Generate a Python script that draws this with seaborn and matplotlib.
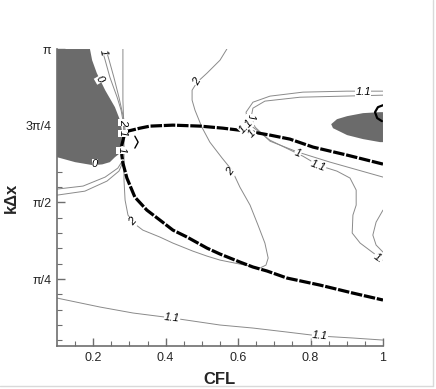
import numpy as np
import matplotlib
matplotlib.use("Agg")
import matplotlib.pyplot as plt
from matplotlib.lines import Line2D
import seaborn as sns

PI = np.pi

# ---- shaded regions (contour level < 0) ----
neg_left_x = [0.100, 0.191, 0.197, 0.210, 0.233, 0.260, 0.274, 0.279, 0.279, 0.277, 0.274,
              0.260, 0.246, 0.225, 0.199, 0.150, 0.100]
neg_left_y = [PI, PI, 3.027, 2.894, 2.720, 2.546, 2.413, 2.311, 2.208, 2.127, 2.075,
              2.034, 1.983, 1.960, 1.952, 1.983, 2.034]
neg_right_x = [1.000, 0.992, 0.945, 0.901, 0.873, 0.857, 0.862, 0.901, 0.945, 0.992, 1.000]
neg_right_y = [2.495, 2.495, 2.485, 2.454, 2.423, 2.372, 2.331, 2.260, 2.219, 2.188, 2.188]

# ---- thick dashed contour (|G| = 1 boundary) ----
bound_x = [1.000, 0.901, 0.807, 0.743, 0.688, 0.625, 0.558, 0.495, 0.420, 0.357, 0.329, 0.296,
           0.285, 0.279, 0.279, 0.282, 0.293, 0.315, 0.348, 0.384, 0.420, 0.459, 0.514, 0.550,
           0.605, 0.641, 0.680, 0.735, 0.826, 0.917, 1.000]
bound_y = [1.963, 2.055, 2.137, 2.219, 2.260, 2.301, 2.331, 2.352, 2.362, 2.352, 2.331, 2.301,
           2.249, 2.157, 2.055, 1.973, 1.820, 1.625, 1.492, 1.390, 1.287, 1.216, 1.103, 1.042,
           0.960, 0.909, 0.868, 0.796, 0.724, 0.642, 0.571]

# ---- contour level 2 ----
c2_x = [0.569, 0.550, 0.514, 0.487, 0.473, 0.473, 0.481, 0.500, 0.522, 0.556, 0.583, 0.605,
        0.633, 0.655, 0.674, 0.683, 0.677, 0.660, 0.605, 0.550, 0.514, 0.475, 0.420, 0.384,
        0.337, 0.315, 0.296, 0.288, 0.285, 0.285, 0.285, 0.282, 0.282, 0.282]
c2_y = [PI, 3.027, 2.894, 2.802, 2.720, 2.618, 2.515, 2.341, 2.188, 2.024, 1.901, 1.727,
        1.543, 1.338, 1.154, 1.001, 0.929, 0.898, 0.939, 0.980, 1.021, 1.072, 1.154, 1.216,
        1.287, 1.349, 1.441, 1.594, 1.799, 2.004, 2.311, 2.618, 2.925, PI]

# ---- contours 1 / 1.1 near the left cusp ----
top_a_x = [0.224, 0.233, 0.246, 0.266, 0.277, 0.282, 0.285]
top_a_y = [PI, 3.027, 2.853, 2.648, 2.515, 2.413, 2.311]
top_b_x = [0.235, 0.244, 0.257, 0.271, 0.279, 0.285, 0.288]
top_b_y = [PI, 3.027, 2.853, 2.648, 2.515, 2.413, 2.311]
low_c_x = [0.100, 0.172, 0.233, 0.268, 0.282]
low_c_y = [1.707, 1.738, 1.830, 1.922, 2.004]
low_d_x = [0.100, 0.177, 0.238, 0.271, 0.282]
low_d_y = [1.645, 1.686, 1.789, 1.891, 1.983]

# ---- contour 1.1 (bottom) ----
bot11_x = [0.100, 0.219, 0.310, 0.418, 0.550, 0.641, 0.735, 0.826, 0.917, 1.000]
bot11_y = [0.591, 0.499, 0.438, 0.387, 0.315, 0.284, 0.243, 0.202, 0.182, 0.161]

# ---- contours 1.1 and 1 (right, around the shaded ellipse) ----
r11_x = [1.000, 0.901, 0.779, 0.688, 0.641, 0.622, 0.625, 0.641, 0.688, 0.779, 0.821, 0.873,
         0.909, 0.926, 0.926, 0.917, 0.915, 0.937, 0.970, 1.000]
r11_y = [2.710, 2.710, 2.700, 2.659, 2.597, 2.495, 2.413, 2.341, 2.208, 2.044, 1.952, 1.891,
         1.820, 1.697, 1.543, 1.441, 1.257, 1.154, 1.062, 0.980]
r1_x = [1.000, 0.771, 0.674, 0.641, 0.636, 0.647, 0.688, 0.765, 0.854, 1.000]
r1_y = [2.669, 2.648, 2.608, 2.536, 2.444, 2.341, 2.198, 2.086, 1.983, 1.830]
bump_x = [1.000, 0.981, 0.972, 0.981, 1.000]
bump_y = [1.492, 1.369, 1.236, 1.134, 1.062]

# ---- small solid black arcs (level 0 pieces) ----
arc_r_x = [1.000, 0.986, 0.978, 0.984, 0.997]
arc_r_y = [2.566, 2.546, 2.495, 2.434, 2.403]
arc_l_x = [0.315, 0.324, 0.315]
arc_l_y = [2.249, 2.188, 2.127]

# ---- contour labels: text, x, y, rotation ----
lab_text = ["1", "0", "0", "2", "1", "1", "2", "2", "2", "1", "1.1", "1",
            "1.1", "1", "1.1", "1.1", "1.1", "1."]
lab_x = [0.227, 0.219, 0.205, 0.282, 0.282, 0.279, 0.487, 0.580, 0.310, 0.636, 0.622, 0.638,
         0.945, 0.765, 0.821, 0.418, 0.826, 0.986]
lab_y = [3.110, 2.833, 1.963, 2.393, 2.280, 2.106, 2.802, 1.881, 1.369, 2.444, 2.352, 2.270,
         2.700, 2.075, 1.942, 0.387, 0.202, 1.001]
lab_rot = [-80, -60, 0, -90, -90, -90, 60, 55, 50, -90, 45, 45,
           0, -20, -20, -6, -5, -35]

yticks = [PI / 4, PI / 2, 3 * PI / 4, PI]
ytick_labels = ["π/4", "π/2", "3π/4", "π"]
xticks = [0.2, 0.4, 0.6, 0.8, 1.0]
xtick_labels = ["0.2", "0.4", "0.6", "0.8", "1"]

sns.set_style("white")
plt.rcParams['font.family'] = ['Liberation Sans', 'DejaVu Sans']

fig = plt.figure(figsize=(4.36, 3.89), dpi=100)
ax = fig.add_axes([0.1307, 0.1105, 0.7477, 0.7635])

AX_GRAY = "#6e6e6e"
LINE_GRAY = "#8a8a8a"

ax.fill(neg_left_x, neg_left_y, color="#6b6b6b", lw=0, zorder=1)
ax.fill(neg_right_x, neg_right_y, color="#6b6b6b", lw=0, zorder=1)


def thin(x, y, color=LINE_GRAY, lw=0.7):
    sns.lineplot(x=x, y=y, sort=False, estimator=None, ax=ax, color=color, lw=lw, zorder=2)


for xs, ys in [(c2_x, c2_y), (top_a_x, top_a_y), (top_b_x, top_b_y), (low_c_x, low_c_y),
               (low_d_x, low_d_y), (bot11_x, bot11_y), (r11_x, r11_y), (r1_x, r1_y),
               (bump_x, bump_y)]:
    thin(xs, ys)

sns.lineplot(x=bound_x, y=bound_y, sort=False, estimator=None, ax=ax, color="black", lw=2.3,
             zorder=4)
ax.lines[-1].set_dashes([3.6, 0.55])
sns.lineplot(x=arc_r_x, y=arc_r_y, sort=False, estimator=None, ax=ax, color="black", lw=1.6,
             zorder=4)
sns.lineplot(x=arc_l_x, y=arc_l_y, sort=False, estimator=None, ax=ax, color="black", lw=1.0,
             zorder=4)

for t, x, y, r in zip(lab_text, lab_x, lab_y, lab_rot):
    ax.text(x, y, t, rotation=r, fontsize=8, ha="center", va="center", color="black",
            style="italic", zorder=5,
            bbox=dict(fc="white", ec="none", pad=0.2))

ax.set_xlim(0.1, 1.0)
ax.set_ylim(0.1, PI)
ax.set_xticks(xticks)
ax.set_xticklabels(xtick_labels)
ax.set_yticks(yticks)
ax.set_yticklabels(ytick_labels)
ax.set_xticks(np.arange(0.15, 1.0, 0.05), minor=True)
ax.set_yticks(np.arange(1, 20) * PI / 20, minor=True)
ax.tick_params(which="major", direction="in", length=6, width=1.0, color=AX_GRAY,
               labelsize=9, pad=4)
ax.tick_params(which="minor", direction="in", length=3.5, width=0.8, color=AX_GRAY)
ax.tick_params(axis="x", bottom=True, which="both")
ax.tick_params(axis="y", left=True, which="both")

for s in ["top", "right"]:
    ax.spines[s].set_visible(False)
for s in ["left", "bottom"]:
    ax.spines[s].set_color(AX_GRAY)
    ax.spines[s].set_linewidth(1.2)

ax.set_xlabel("CFL", fontsize=12, fontweight="bold", labelpad=6)
ax.set_ylabel("kΔx", fontsize=12, fontweight="bold", labelpad=5)

fig.add_artist(Line2D([0.993, 0.993], [0.008, 1.0], color="#d9d9d9", lw=1.0))
fig.add_artist(Line2D([0.0, 0.993], [0.008, 0.008], color="#d9d9d9", lw=1.0))

fig.savefig("out.png", dpi=100)
